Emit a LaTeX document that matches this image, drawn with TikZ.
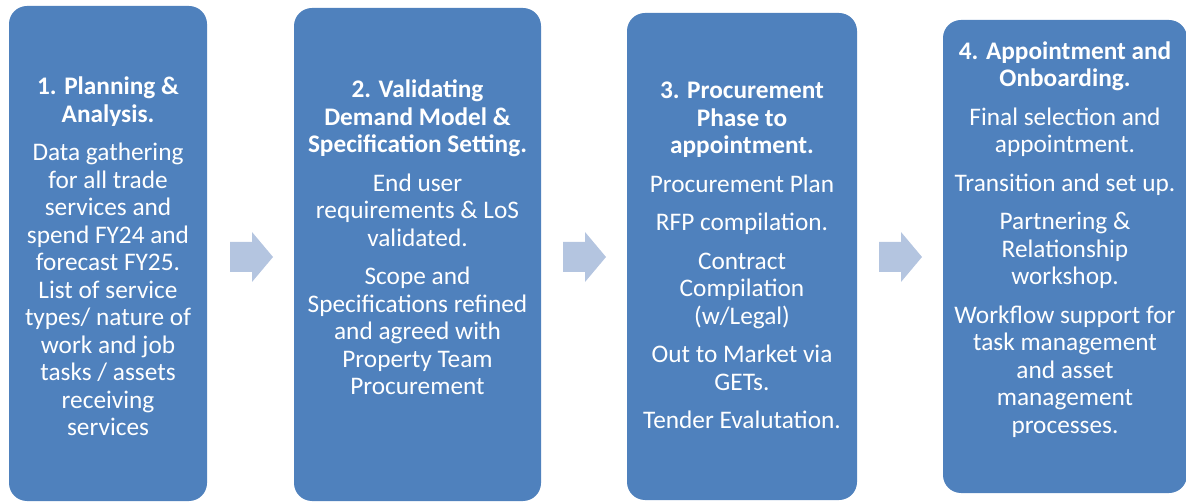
\documentclass[tikz,border=0pt]{standalone}
\usepackage{fontspec}
\setmainfont{Carlito}
\usetikzlibrary{positioning}
\definecolor{phaseblue}{RGB}{79,129,189}
\definecolor{arrowblue}{RGB}{180,197,224}
\tikzset{
  phase/.style={rectangle, rounded corners=18pt, fill=phaseblue, draw=none, inner sep=0pt},
  phasetext/.style={anchor=north, align=center, text=white, inner sep=0pt, font=\fontsize{25.3}{27.5}\selectfont},
  flow/.style={fill=arrowblue}
}

\begin{document}
\begin{tikzpicture}[x=1pt, y=-1pt]
\useasboundingbox (0,0) rectangle (1186,502);

% phase boxes
\node[phase, minimum width=198pt, minimum height=495pt] (P1) at (108,253.5) {};
\node[phase, minimum width=247pt, minimum height=493pt] (P2) at (417.5,254.5) {};
\node[phase, minimum width=230pt, minimum height=487pt] (P3) at (742,256.5) {};
\node[phase, minimum width=244pt, minimum height=473pt] (P4) at (1065,256.5) {};

% block arrows between the boxes
\foreach \x in {230,563,879} {
  \fill[flow] (\x,242) -- ++(22,0) -- ++(0,-10) -- ++(21,25) -- ++(-21,25) -- ++(0,-10) -- ++(-22,0) -- cycle;
}

% phase texts
\node[phasetext] (T1) at (P1.center |- 0,77) {{\bfseries 1. Planning \&}\\{\bfseries Analysis.}\\[11pt]
  Data gathering\\for all trade\\services and\\spend FY24 and\\forecast FY25.\\List of service\\
  types/ nature of\\work and job\\tasks / assets\\receiving\\services};
\node[phasetext] (T2) at (P2.center |- 0,80) {{\bfseries 2. Validating}\\{\bfseries Demand Model \&}\\
  {\bfseries Specification Setting.}\\[11pt]
  End user\\requirements \& LoS\\validated.\\[11pt]
  Scope and\\Specifications refined\\and agreed with\\Property Team\\Procurement};
\node[phasetext] (T3) at (P3.center |- 0,82) {{\bfseries 3. Procurement}\\{\bfseries Phase to}\\{\bfseries appointment.}\\[11pt]
  Procurement Plan\\[11pt]
  RFP compilation.\\[11pt]
  Contract\\Compilation\\(w/Legal)\\[11pt]
  Out to Market via\\GETs.\\[11pt]
  Tender Evalutation.};
\node[phasetext] (T4) at (P4.center |- 0,41.5) {{\bfseries 4. Appointment and}\\{\bfseries Onboarding.}\\[11pt]
  Final selection and\\appointment.\\[11pt]
  Transition and set up.\\[11pt]
  Partnering \&\\Relationship\\workshop.\\[11pt]
  Workflow support for\\task management\\and asset\\management\\processes.};

\end{tikzpicture}
\end{document}
